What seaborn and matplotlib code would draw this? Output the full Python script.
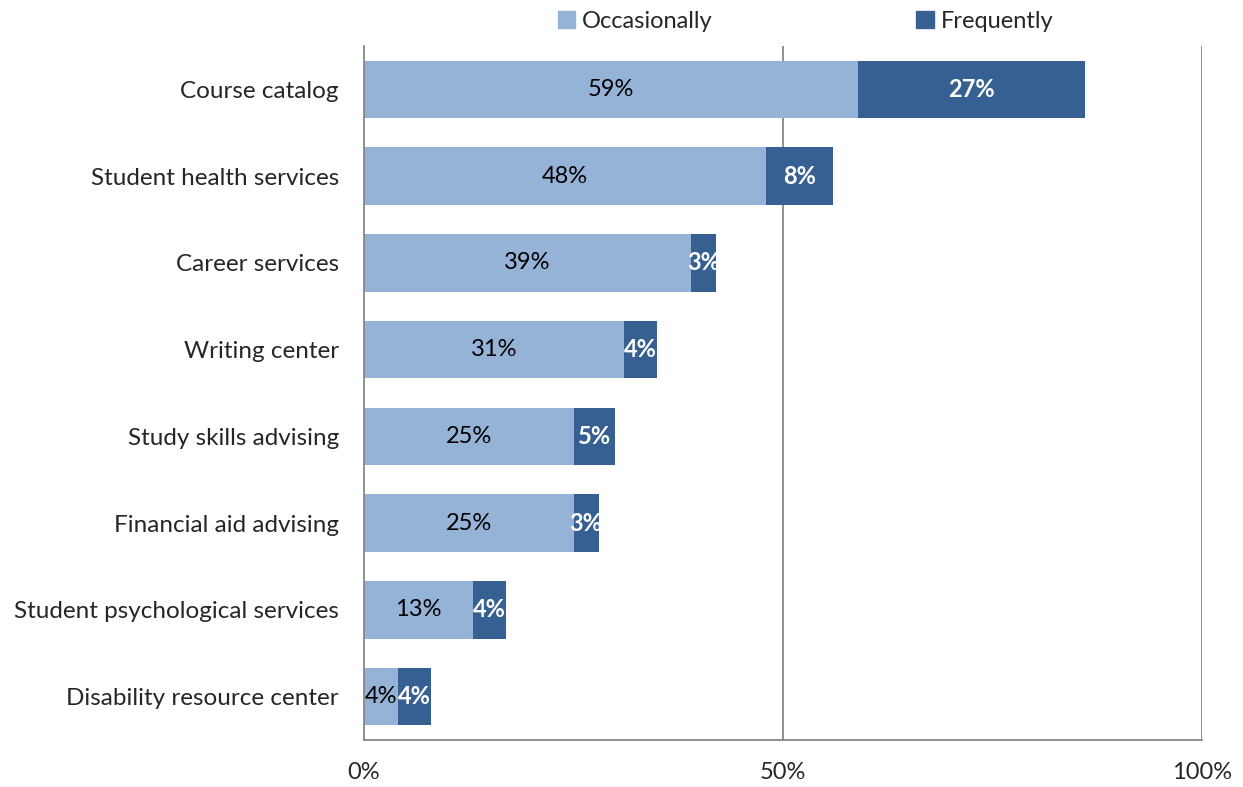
import matplotlib
matplotlib.use("Agg")
import matplotlib.pyplot as plt
import seaborn as sns
import pandas as pd
from matplotlib.patches import Patch

categories = ["Course catalog", "Student health services", "Career services",
              "Writing center", "Study skills advising", "Financial aid advising",
              "Student psychological services", "Disability resource center"]
occasionally = [59, 48, 39, 31, 25, 25, 13, 4]
frequently = [27, 8, 3, 4, 5, 3, 4, 4]
xticks = [0, 50, 100]
xticklabels = ["0%", "50%", "100%"]

c_occ = "#95B3D7"
c_freq = "#376092"

sns.set_theme(style="white")
plt.rcParams["font.family"] = ["Lato", "DejaVu Sans"]

df = pd.DataFrame({"cat": categories, "occ": occasionally, "freq": frequently})
df["total"] = df["occ"] + df["freq"]

fig = plt.figure(figsize=(12.43, 7.87), dpi=100)
ax = fig.add_axes([364/1243, 1 - 740/787, (1202-364)/1243, (740-46)/787])

sns.barplot(data=df, y="cat", x="total", color=c_freq, saturation=1, width=0.66, ax=ax,
            orient="h", linewidth=0)
sns.barplot(data=df, y="cat", x="occ", color=c_occ, saturation=1, width=0.66, ax=ax,
            orient="h", linewidth=0)

fs = 17
for i, (o, f) in enumerate(zip(occasionally, frequently)):
    ax.text(o / 2, i, f"{o}%", ha="center", va="center", fontsize=fs, color="black")
    ax.text(o + f / 2, i, f"{f}%", ha="center", va="center", fontsize=fs, color="white", fontweight="bold")

ax.set_xlim(0, 100)
ax.set_ylim(7.5, -0.5)
ax.set_xticks(xticks)
ax.set_xticklabels(xticklabels, fontsize=fs)
ax.tick_params(axis="x", length=0, pad=16)
ax.tick_params(axis="y", length=0, pad=18, labelsize=17.5)
ax.set_xlabel("")
ax.set_ylabel("")
for x in [50, 100]:
    ax.axvline(x, color="#878787", lw=1.3, zorder=0)
for s in ["top", "right"]:
    ax.spines[s].set_visible(False)
for s in ["left", "bottom"]:
    ax.spines[s].set_color("#878787")
    ax.spines[s].set_linewidth(1.3)

handles = [Patch(color=c_occ, label="Occasionally"), Patch(color=c_freq, label="Frequently")]
fig.legend(handles=handles, loc="center", bbox_to_anchor=(0.648, 0.973), ncol=2, frameon=False,
           fontsize=fs, handlelength=0.75, handleheight=0.75, handletextpad=0.3, columnspacing=8.6)

fig.savefig("out.png", dpi=100)
